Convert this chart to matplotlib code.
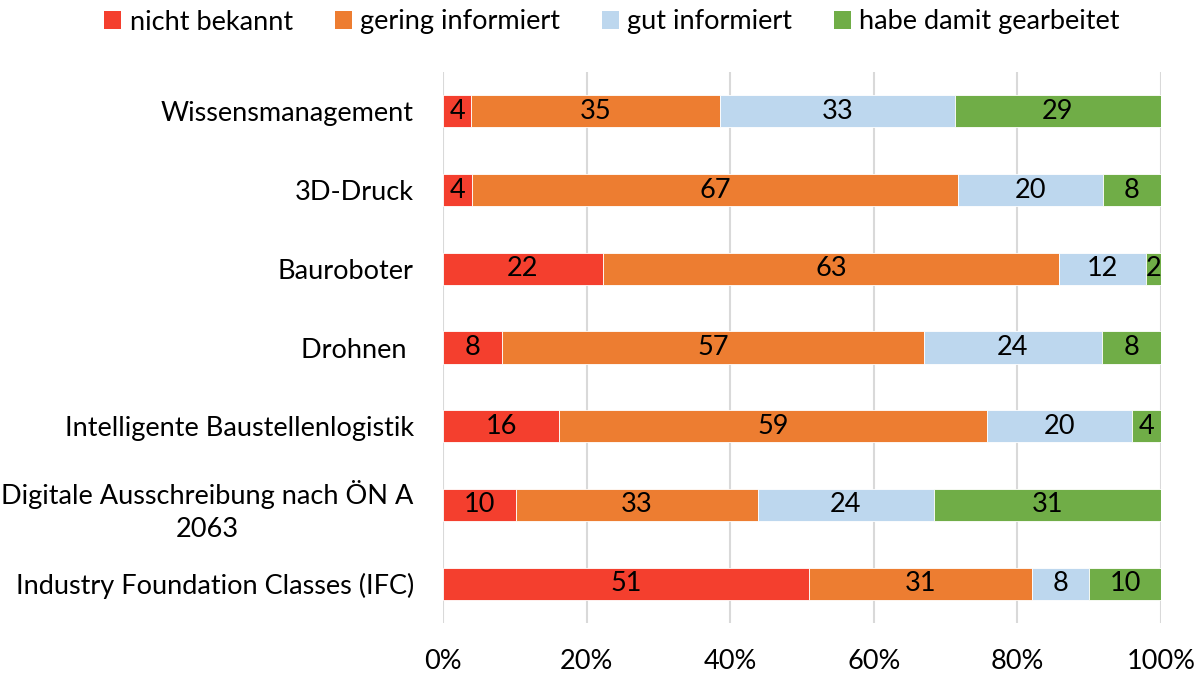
import matplotlib.pyplot as plt
import numpy as np
from matplotlib.patches import Patch

plt.rcParams["font.family"] = ["Lato", "DejaVu Sans"]

# Survey answers per technology (counts, shown normalised to 100 %)
categories = [
    "Wissensmanagement",
    "3D-Druck",
    "Bauroboter",
    "Drohnen ",
    "Intelligente Baustellenlogistik",
    "Digitale Ausschreibung nach ÖN A\n2063",
    "Industry Foundation Classes (IFC)",
]
nicht_bekannt = [4, 4, 22, 8, 16, 10, 51]
gering_informiert = [35, 67, 63, 57, 59, 33, 31]
gut_informiert = [33, 20, 12, 24, 20, 24, 8]
gearbeitet = [29, 8, 2, 8, 4, 31, 10]

series = [
    ("nicht bekannt", nicht_bekannt, "#F43F2E"),
    ("gering informiert", gering_informiert, "#ED7D31"),
    ("gut informiert", gut_informiert, "#BDD7EE"),
    ("habe damit gearbeitet", gearbeitet, "#70AD47"),
]

counts = np.array([s[1] for s in series], dtype=float)
totals = counts.sum(axis=0)
shares = counts / totals

fs = 19.5

fig = plt.figure(figsize=(12.04, 6.75), dpi=100)
ax = fig.add_axes([443 / 1204, 1 - 623 / 675, 718 / 1204, 551 / 675])

y = np.arange(len(categories))
left = np.zeros(len(categories))
for (name, vals, color), share in zip(series, shares):
    bars = ax.barh(y, share, left=left, height=0.41, color=color,
                   edgecolor="white", linewidth=0.6, label=name, zorder=3)
    for b, v in zip(bars, vals):
        ax.text(b.get_x() + b.get_width() / 2, b.get_y() + b.get_height() / 2,
                str(v), ha="center", va="center", fontsize=fs, zorder=4)
    left += share

ax.set_xlim(0, 1)
ax.set_ylim(len(categories) - 0.5, -0.5)
ax.set_xticks(np.linspace(0, 1, 6))
ax.set_xticklabels([f"{int(t * 100)}%" for t in np.linspace(0, 1, 6)])
ax.set_yticks(y)
ax.set_yticklabels(categories, multialignment="center", linespacing=1.4)
ax.tick_params(axis="x", length=0, pad=19, labelsize=fs)
ax.tick_params(axis="y", length=0, pad=21, labelsize=fs)
ax.xaxis.grid(True, color="#D9D9D9", linewidth=1.5, zorder=0)
for sp in ax.spines.values():
    sp.set_visible(False)

handles = [Patch(facecolor=c, label=n) for n, _, c in series]
fig.legend(handles=handles, loc="center",
           bbox_to_anchor=(612 / 1204, 1 - 22 / 675),
           ncol=4, frameon=False, fontsize=fs, handlelength=0.63,
           handleheight=0.63, handletextpad=0.3, columnspacing=1.55)

fig.savefig("out.png", dpi=100)
